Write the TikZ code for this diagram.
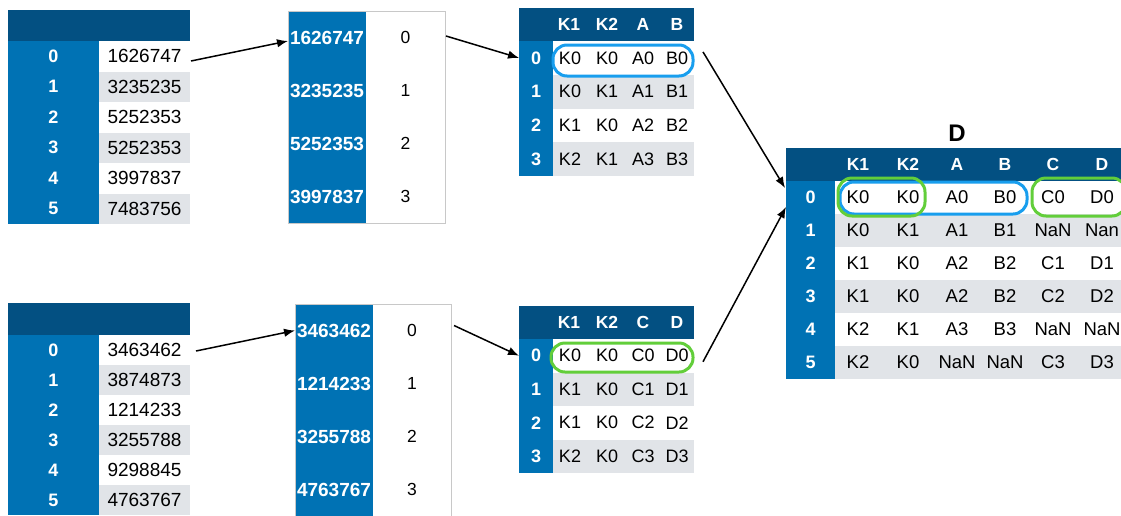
\documentclass[tikz,border=0pt]{standalone}
\usepackage{fontspec}
\setmainfont{Liberation Sans}
\usetikzlibrary{arrows.meta}

\definecolor{hdrblue}{RGB}{3,80,130}
\definecolor{idxblue}{RGB}{0,114,180}
\definecolor{stripe}{RGB}{225,228,232}
\definecolor{ringblue}{RGB}{24,158,238}
\definecolor{ringgreen}{RGB}{98,206,58}
\definecolor{framegray}{RGB}{200,200,200}

\newcommand\fsz[1]{\fontsize{#1}{#1}\selectfont}

\tikzset{
  cellbox/.style={inner sep=0pt, outer sep=0pt, minimum width=#1},
  hdrcell/.style={fill=hdrblue, inner sep=0pt, outer sep=0pt},
  idxcell/.style={fill=idxblue, text=white, font=\fsz{18}\bfseries, inner sep=0pt, outer sep=0pt},
  keycell/.style={fill=idxblue, text=white, font=\fsz{19}\bfseries, inner sep=0pt, outer sep=0pt},
  valcell/.style={font=\fsz{19}, inner sep=0pt, outer sep=0pt},
  hdrtxt/.style={text=white, font=\fsz{17.5}\bfseries, inner sep=0pt},
  datatxt/.style={font=\fsz{18}, inner sep=0pt},
  ring/.style={draw=#1, line width=3pt, rounded corners=14pt},
  arr/.style={-{Latex[length=11pt,width=8.5pt]}, line width=1.5pt, black},
}

\begin{document}
\begin{tikzpicture}[x=1pt,y=-1pt]
\useasboundingbox (0,0) rectangle (1121,515);

% ---------- first series (top) ----------
\node[hdrcell, minimum width=182, minimum height=31] (t1h) at (99,25.5) {};
\foreach \v/\bg [count=\i from 0] in {1626747/white,3235235/stripe,5252353/white,5252353/stripe,3997837/white,7483756/stripe}{
  \node[idxcell, minimum width=91, minimum height=30.5] (t1i\i) at (53.5,56.25+30.5*\i) {\i};
  \node[valcell, fill=\bg, minimum width=91, minimum height=30.5] (t1v\i) at (144.5,56.25+30.5*\i) {\v};
}

% ---------- index of the first series ----------
\foreach \v [count=\i from 0] in {1626747,3235235,5252353,3997837}{
  \node[keycell, minimum width=78, minimum height=53] (t2k\i) at (327,37.5+53*\i) {\v};
  \node[valcell, fill=white, font=\fsz{17.5}, minimum width=79, minimum height=53] (t2r\i) at (405.5,37.5+53*\i) {\i};
}
\draw[framegray, line width=0.8pt] (t2k0.north west) rectangle (t2r3.south east);

% ---------- left frame (top) ----------
\node[hdrcell, minimum width=175, minimum height=33] (t3h) at (606.5,24.5) {};
\foreach \c/\x in {K1/569,K2/607,A/643,B/677}
  \node[hdrtxt] (t3h\c) at (\x,24.5) {\c};
\foreach \a/\b/\cc/\d/\bg [count=\i from 0] in {K0/K0/A0/B0/white,K0/K1/A1/B1/stripe,K1/K0/A2/B2/white,K2/K1/A3/B3/stripe}{
  \node[idxcell, minimum width=34, minimum height=33.75] (t3i\i) at (536,57.9+33.75*\i) {\i};
  \node[cellbox=141, fill=\bg, minimum height=33.75] (t3r\i) at (623.5,57.9+33.75*\i) {};
  \node[datatxt] (t3a\i) at (570,57.9+33.75*\i) {\a};
  \node[datatxt] (t3b\i) at (607,57.9+33.75*\i) {\b};
  \node[datatxt] (t3c\i) at (643,57.9+33.75*\i) {\cc};
  \node[datatxt] (t3d\i) at (677,57.9+33.75*\i) {\d};
}
\draw[ring=ringblue] (553,45) rectangle (693,76);

% ---------- second series (bottom) ----------
\node[hdrcell, minimum width=182, minimum height=32] (b1h) at (99,319) {};
\foreach \v/\bg [count=\i from 0] in {3463462/white,3874873/stripe,1214233/white,3255788/stripe,9298845/white,4763767/stripe}{
  \node[idxcell, minimum width=91, minimum height=30] (b1i\i) at (53.5,350+30*\i) {\i};
  \node[valcell, fill=\bg, minimum width=91, minimum height=30] (b1v\i) at (144.5,350+30*\i) {\v};
}

% ---------- index of the second series ----------
\foreach \v [count=\i from 0] in {3463462,1214233,3255788,4763767}{
  \node[keycell, minimum width=78, minimum height=53] (b2k\i) at (334,330.5+53*\i) {\v};
  \node[valcell, fill=white, font=\fsz{17.5}, minimum width=78, minimum height=53] (b2r\i) at (412,330.5+53*\i) {\i};
}
\draw[framegray, line width=0.8pt] (b2k0.north west) rectangle (b2r3.south east);

% ---------- right frame (bottom) ----------
\node[hdrcell, minimum width=175, minimum height=33] (b3h) at (606.5,322.5) {};
\foreach \c/\x in {K1/569,K2/607,C/643,D/677}
  \node[hdrtxt] (b3h\c) at (\x,322.5) {\c};
\foreach \a/\b/\cc/\d/\bg [count=\i from 0] in {K0/K0/C0/D0/white,K1/K0/C1/D1/stripe,K1/K0/C2/D2/white,K2/K0/C3/D3/stripe}{
  \node[idxcell, minimum width=34, minimum height=33.5] (b3i\i) at (536,355.75+33.5*\i) {\i};
  \node[cellbox=141, fill=\bg, minimum height=33.5] (b3r\i) at (623.5,355.75+33.5*\i) {};
  \node[datatxt] (b3a\i) at (570,355.75+33.5*\i) {\a};
  \node[datatxt] (b3b\i) at (607,355.75+33.5*\i) {\b};
  \node[datatxt] (b3c\i) at (643,355.75+33.5*\i) {\cc};
  \node[datatxt] (b3d\i) at (677,355.75+33.5*\i) {\d};
}
\draw[ring=ringgreen] (551,343) rectangle (693,372);

% ---------- merged frame D ----------
\node[font=\fsz{24}\bfseries, inner sep=0pt] (dtitle) at (957,133) {D};
\node[hdrcell, minimum width=340, minimum height=33] (dh) at (956,164.5) {};
\foreach \c/\x in {K1/858,K2/908,A/957,B/1005,C/1053,D/1102}
  \node[hdrtxt] (dh\c) at (\x,164.5) {\c};
\foreach \a/\b/\cc/\d/\e/\f/\bg [count=\i from 0] in {
    K0/K0/A0/B0/C0/D0/white,
    K0/K1/A1/B1/NaN/Nan/stripe,
    K1/K0/A2/B2/C1/D1/white,
    K1/K0/A2/B2/C2/D2/stripe,
    K2/K1/A3/B3/NaN/NaN/white,
    K2/K0/NaN/NaN/C3/D3/stripe}{
  \node[idxcell, minimum width=49, minimum height=33] (di\i) at (810.5,197.5+33*\i) {\i};
  \node[cellbox=291, fill=\bg, minimum height=33] (dr\i) at (980.5,197.5+33*\i) {};
  \node[datatxt, font=\fsz{18.5}] (da\i) at (858,197.5+33*\i) {\a};
  \node[datatxt, font=\fsz{18.5}] (db\i) at (908,197.5+33*\i) {\b};
  \node[datatxt, font=\fsz{18.5}] (dc\i) at (957,197.5+33*\i) {\cc};
  \node[datatxt, font=\fsz{18.5}] (dd\i) at (1005,197.5+33*\i) {\d};
  \node[datatxt, font=\fsz{18.5}] (de\i) at (1053,197.5+33*\i) {\e};
  \node[datatxt, font=\fsz{18.5}] (df\i) at (1102,197.5+33*\i) {\f};
}
\draw[ring=ringblue] (840,182) rectangle (1027,214);
\draw[ring=ringgreen] (838,178) rectangle (925,216);
\draw[ring=ringgreen] (1032,178) rectangle (1126,216);

% ---------- connectors ----------
\draw[arr] ([shift={(1,4.75)}]t1v0.east) -- ([shift={(0,3.5)}]t2k0.west);
\draw[arr] ([shift={(1,-1.5)}]t2r0.east) -- (t3i0.west);
\draw[arr] ([shift={(9,-6)}]t3r0.east) -- ([shift={(-1,-9.5)}]di0.west);
\draw[arr] ([shift={(6,1)}]b1v0.east) -- (b2k0.west);
\draw[arr] ([shift={(3,-5)}]b2r0.east) -- (b3i0.west);
\draw[arr] ([shift={(9,6)}]b3r0.east) -- ([shift={(0,9.5)}]di0.west);
\end{tikzpicture}
\end{document}
